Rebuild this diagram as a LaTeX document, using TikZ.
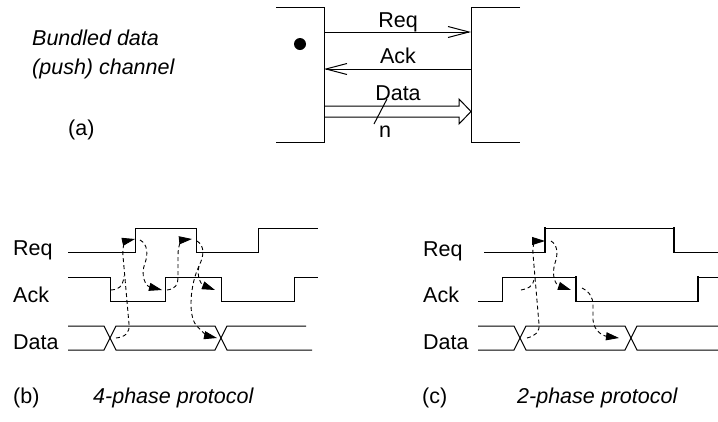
\documentclass[tikz,border=0pt]{standalone}
\usepackage{fontspec}
\setmainfont{Liberation Sans}
\usetikzlibrary{arrows.meta,positioning}

\begin{document}
\begin{tikzpicture}[x=1pt,y=-1pt,>={Triangle[length=13pt,width=8pt]},
    every node/.append style={inner sep=0pt,font=\fontsize{21.5}{26}\selectfont},
    lab/.style={anchor=base west},
    mid/.style={anchor=base},
    it/.style={anchor=base west,font=\fontsize{21.5}{26}\selectfont\itshape},
    wire/.style={line width=1pt},
    thick edge/.style={line width=2.4pt},
    dep/.style={line width=0.9pt,dash pattern=on 4pt off 3pt}]
    \useasboundingbox (0,0) rectangle (718,421);

    % (a)
    \node [it] (title) at (32,45) {Bundled data};
    \node [it] (title2) at (32,74) {(push) channel};
    \node [lab] (a) at (68,135) {(a)};
    \coordinate (snd) at (324,7);
    \coordinate (rcv) at (471,7);
    \draw[wire] (276,7) -| (324,142) -- (276,142);
    \draw[wire] (520,7) -| (471,142) -- (520,142);
    \fill (300,44) circle [radius=6pt];
    \coordinate (req1) at (324,32);  \coordinate (req2) at (471,32);
    \coordinate (ack1) at (471,69);  \coordinate (ack2) at (324,69);
    \draw[wire,-{Straight Barb[length=21pt,width=11pt]}] (req1) -- (req2);
    \draw[wire,-{Straight Barb[length=21pt,width=11pt]}] (ack1) -- (ack2);
    \draw[wire] (324,106) -- (459,106) -- (459,99) -- (471,111.5) -- (459,124) -- (459,117) -- (324,117);
    \draw[wire] (387,99) -- (374,124);
    \node [mid] (req) at (398,27) {Req};
    \node [mid] (ack) at (398,63) {Ack};
    \node [mid] (data) at (398,100) {Data};
    \node [mid] (n) at (385,137) {n};

    % (b)
    \node [lab] (breq) at (13,255) {Req};
    \node [lab] (back) at (13,302) {Ack};
    \node [lab] (bdata) at (13,349) {Data};
    \node [lab] (b) at (13,403) {(b)};
    \node [it] (bcap) at (93,403) {4-phase protocol};
    \draw[wire] (68,252) -| (135,228) -| (196,252) -| (258,228) -- (318,228);
    \draw[wire] (68,277) -| (110,301) -| (165,277) -| (221,301) -| (294,277) -- (318,277);
    \draw[wire] (68,326) -- (104,326) -- (116,350) -- (215,350) -- (227,326) -- (306,326);
    \draw[wire] (68,350) -- (104,350) -- (116,326) -- (215,326) -- (227,350) -- (312,350);
    \coordinate (bx1) at (116,338);  \coordinate (bx2) at (217,338);
    \coordinate (ba1) at (111,290);  \coordinate (ba2) at (162,290);
    \coordinate (ba3) at (167,290);  \coordinate (ba4) at (215,290);
    \coordinate (br1) at (135,239);  \coordinate (br2) at (140,240);
    \coordinate (br3) at (192,239);  \coordinate (br4) at (197,241);
    \coordinate (bj1) at (124,276);  \coordinate (bj2) at (199,266);
    \draw[dep,->] (bx1) .. controls (125,337) and (130,333) .. (129,324)
        -- (123,256) .. controls (122,246) and (126,241) .. (br1);
    \draw[dep] (ba1) .. controls (118,290) and (123,287) .. (bj1);
    \draw[dep,->] (br2) .. controls (148,244) and (148,255) .. (145,263)
        .. controls (140,276) and (146,286) .. (ba2);
    \draw[dep,->] (ba3) .. controls (175,289) and (178,285) .. (178,278)
        -- (178,255) .. controls (178,245) and (182,240) .. (br3);
    \draw[dep,->] (br4) .. controls (205,246) and (204,256) .. (bj2)
        .. controls (196,277) and (202,285) .. (ba4);
    \draw[dep,->] (bj2) .. controls (190,285) and (188,315) .. (196,325)
        .. controls (202,332) and (208,336) .. (bx2);

    % (c)
    \node [lab] (creq) at (423,256) {Req};
    \node [lab] (cack) at (423,302) {Ack};
    \node [lab] (cdata) at (423,349) {Data};
    \node [lab] (c) at (422,403) {(c)};
    \node [it] (ccap) at (517,403) {2-phase protocol};
    \draw[wire] (484,252) -- (545,252);
    \draw[wire] (545,228) -- (674,228);
    \draw[wire] (674,252) -- (718,252);
    \draw[thick edge] (545,253) -- (545,227);
    \draw[thick edge] (674,227) -- (674,253);
    \draw[wire] (478,301) -| (502,277) -- (576,277);
    \draw[wire] (576,301) -- (698,301);
    \draw[wire] (698,277) -- (718,277);
    \draw[thick edge] (576,276) -- (576,302);
    \draw[thick edge] (698,302) -- (698,276);
    \draw[wire] (478,326) -- (514,326) -- (526,350) -- (625,350) -- (637,326) -- (718,326);
    \draw[wire] (478,350) -- (514,350) -- (526,326) -- (625,326) -- (637,350) -- (718,350);
    \coordinate (cx1) at (527,338);  \coordinate (cx2) at (619,338);
    \coordinate (ca1) at (521,290);  \coordinate (ca2) at (571,290);
    \coordinate (ca3) at (582,288);
    \coordinate (cr1) at (545,241);  \coordinate (cr2) at (551,241);
    \coordinate (cj1) at (534,280);
    \draw[dep,->] (cx1) .. controls (535,336) and (540,332) .. (539,324)
        -- (533,254) .. controls (532,245) and (536,241) .. (cr1);
    \draw[dep] (ca1) .. controls (528,289) and (533,286) .. (cj1);
    \draw[dep,->] (cr2) .. controls (558,245) and (558,255) .. (555,263)
        .. controls (551,276) and (556,285) .. (ca2);
    \draw[dep,->] (ca3) .. controls (590,292) and (593,298) .. (593,305)
        -- (593,320) .. controls (594,332) and (604,336) .. (cx2);
\end{tikzpicture}
\end{document}
